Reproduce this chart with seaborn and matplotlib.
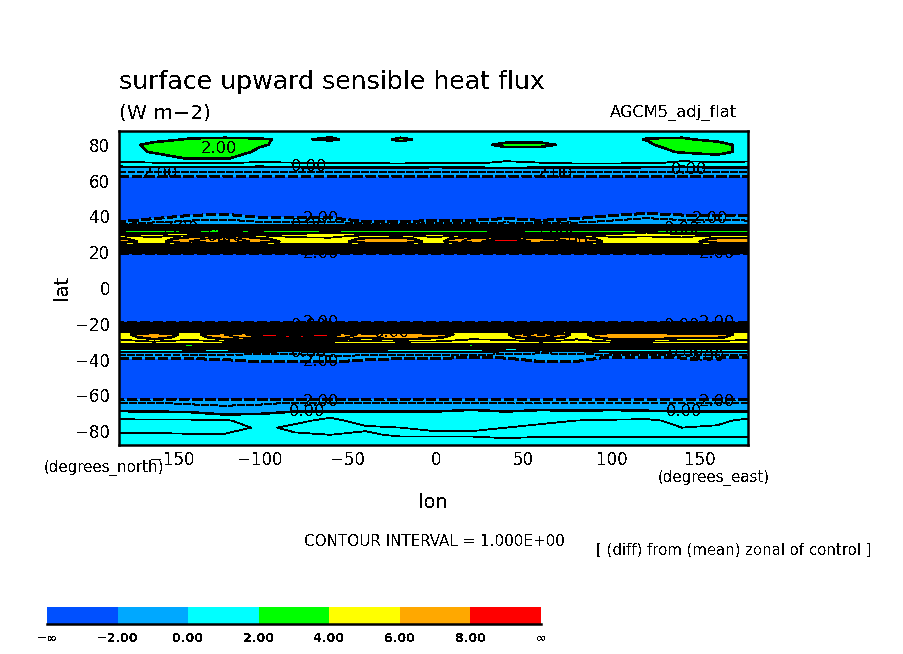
import numpy as np
import matplotlib
matplotlib.use("Agg")
import matplotlib.pyplot as plt
from matplotlib.colors import ListedColormap, BoundaryNorm
import seaborn as sns

# ---------- data ----------
lons = [-180,-160,-140,-120,-100,-80,-60,-40,-20,0,20,40,60,80,100,120,140,160,177.5]
lats = [87.7,83,80,76,72.5,70,67.5,65,62.5,60,47,43,41,39,37,35.5,34,33,32,31,30,29,27.5,26,24.5,23.5,22.5,21.5,20.5,19.5,18,
        -18,-19.5,-20.5,-21.5,-22.5,-23.5,-24.5,-26,-27.5,-29,-30,-31,-32,-33,-34,-35.5,-37,-39,-41,-43,-47,
        -60,-62.5,-64.5,-69,-71,-74,-78,-82,-87.7]

n877 = [1.5,1.5,1.6,1.6,1.6,1.6,1.7,1.6,1.6,1.6,1.5,1.5,1.5,1.5,1.5,1.6,1.6,1.6,1.5]
n83  = [1.6,1.8,2.05,2.1,2.05,1.9,2.1,1.7,2.1,1.8,1.6,1.7,1.7,1.6,1.6,2.05,2.1,1.8,1.6]
n80  = [1.7,2.2,2.8,2.8,2.1,1.7,1.6,1.6,1.8,1.6,1.7,2.2,2.2,1.7,1.6,1.8,2.7,2.3,1.7]
n76  = [1.6,2.1,2.6,2.6,1.8,1.6,1.5,1.5,1.5,1.5,1.5,1.6,1.5,1.5,1.6,1.6,2.1,2.3,1.7]
n725 = [1.3,1.5,2.1,2.1,1.5,1.3,1.3,1.4,1.5,1.3,1.4,1.2,1.3,1.5,1.5,1.4,1.2,1.6,1.3]
n70  = [0.9,1.0,1.1,1.1,0.9,1.0,1.0,1.1,1.2,1.0,1.1,0.9,1.0,1.2,1.2,1.1,0.9,0.9,0.9]
n675 = [-.1,0,0,0,-.1,0,.1,.1,.1,0,.1,.2,.1,.1,.1,0,-.1,.1,.1]
n65  = [-1,-1,-.9,-1,-1,-1,-.9,-.9,-1,-1,-1,-.8,-1,-.9,-1,-1,-1,-.9,-.9]
n625 = [-2,-2,-1.9,-2,-2,-2,-2,-1.9,-2,-2,-2,-1.9,-2,-2,-2,-2,-2,-2,-2]
n60  = [-4,-4,-4,-4,-4,-4,-4,-4,-4,-4,-4,-4,-4,-4,-4,-4,-4,-4,-4]
n47  = [-8,-8,-8,-8,-8,-8,-8,-8,-8,-8,-8,-8,-8,-8,-8,-8,-8,-8,-8]
n43  = [-6,-5,-4,-3.5,-4,-4,-4,-6,-6,-5,-5,-4,-5,-4,-3.5,-2.6,-3.5,-3.5,-3.5]
n41  = [-5,-3.6,-2.2,-1.9,-2.7,-2.7,-2.7,-4.5,-4.5,-3.5,-3.5,-3,-3.5,-3,-2.2,-1.7,-2.1,-2.1,-2.2]
n39  = [-3.5,-2.1,-1.4,-1.2,-1.8,-1.8,-1.8,-3.5,-3.5,-2.6,-2.6,-2.1,-2.6,-2.1,-1.4,-1,-1.3,-1.3,-1.4]
n37  = [-2,-1.2,-.8,-.7,-1,-1,-1,-2,-2,-1.6,-1.6,-1.2,-1.6,-1.2,-.8,-.6,-.7,-.7,-.8]
n355 = [-.9,-.4,-.2,-.2,-.4,-.3,-.3,-.6,-.6,-.6,-.6,-.4,-.5,-.5,-.4,-.3,-.3,-.2,-.3]
n34  = [.8,1,1.2,1.3,1,1.2,1.2,.8,.8,.8,.9,1,.9,1,.9,.9,1.1,1.2,1]
n33  = [1.7,2.2,2.6,2.5,2,1.9,2.2,1.6,1.8,1.7,1.8,2,1.8,1.9,1.7,1.8,2.3,2.4,2]
n32  = [3.8,3.9,3.4,4.1,3.9,3.7,3.6,3.8,3.9,3.8,3.9,4.1,3.9,3.8,3.7,3.6,3.9,3.9,3.8]
n31  = [2.9,3.1,4.1,3,2.9,3.2,4.1,3,3,3.1,3.2,3.3,3.2,3,3.3,4.1,3.2,3,3]
n30  = [4.6,4.4,4.2,4.8,4.6,4.4,4.3,4.6,4.7,4.4,4.8,5.2,4.8,4.7,4.4,4.3,4.4,4.6,4.6]
n29  = [5.3,4.7,5.6,6.4,5.3,4.7,4.7,5.3,5.5,4.7,5.8,6.6,5.8,5.6,4.8,4.9,4.7,5.3,5.3]
n275 = [6.2,5.3,6.6,7.6,6.2,5.4,5.2,6.2,6.4,5.3,7.1,8.3,7.1,6.7,5.4,5.6,5.3,6.2,6.2]
n26  = [6.5,5.5,7,8.2,6.5,5.6,5.4,6.5,6.8,5.5,7.5,9,7.5,7,5.6,5.8,5.5,6.5,6.5]
n245 = [5.5,4.9,5.8,6.6,5.5,4.9,4.9,5.5,5.7,4.9,6,7,6,5.8,4.9,5,4.9,5.5,5.5]
n235 = [3.6,3.7,3.6,3.8,3.6,3.6,3.7,3.6,3.6,3.6,3.8,3.9,3.8,3.6,3.6,3.7,3.6,3.6,3.6]
n225 = [4.4,4.3,4.4,4.6,4.4,4.4,4.3,4.4,4.4,4.3,4.5,4.7,4.5,4.4,4.3,4.4,4.3,4.4,4.4]
n215 = [2.6,2.7,2.6,2.5,2.6,2.7,2.6,2.6,2.6,2.7,2.6,2.5,2.6,2.6,2.7,2.6,2.7,2.6,2.6]
n205 = [2.9,3,2.9,3.1,2.9,2.9,3,2.9,2.9,3,2.9,3.1,2.9,2.9,3,2.9,2.9,2.9,2.9]
n195 = [-2,-2,-1.8,-2,-2,-2,-1.9,-2,-2,-2,-1.9,-2,-2,-2,-2,-2,-1.9,-2,-2]
n18  = [-8,-8,-8,-8,-8,-8,-8,-8,-8,-8,-8,-8,-8,-8,-8,-8,-8,-8,-8]

s18  = [-8,-8,-8,-8,-8,-8,-8,-8,-8,-8,-8,-8,-8,-8,-8,-8,-8,-8,-8]
s195 = [-2,-1.9,-2,-2,-1.9,-2,-1.9,-2,-2,-1.9,-2,-2,-1.8,-2,-2,-2,-1.9,-2,-2]
s205 = [2.9,3,2.9,3,3.1,3.2,3.1,2.9,3,2.9,2.9,3,3.1,2.9,3,2.9,2.9,3,2.9]
s215 = [2.6,2.5,2.7,2.6,2.5,2.6,2.5,2.6,2.7,2.6,2.6,2.7,2.5,2.6,2.7,2.6,2.5,2.6,2.6]
s225 = [4.3,4.4,4.3,4.4,4.7,4.8,4.7,4.4,4.4,4.4,4.3,4.4,4.6,4.3,4.4,4.4,4.4,4.4,4.3]
s235 = [3.6,3.7,3.6,3.7,3.9,3.9,3.9,3.7,3.7,3.6,3.6,3.7,3.8,3.6,3.7,3.7,3.7,3.6,3.6]
s245 = [4.9,5.4,4.9,5.4,6.4,7,6.4,5.2,5.5,5.2,4.9,5,6.2,4.9,5.4,5.4,5.2,5.2,4.9]
s26  = [5.5,7,5.5,7,8.6,9.5,8.6,6.5,7,6.5,5.5,5.8,8.2,5.5,7,7,6.5,6.5,5.5]
s275 = [5.3,6.6,5.4,6.6,7.8,8.6,7.8,6.2,6.7,6.2,5.3,5.5,7.4,5.3,6.6,6.7,6.2,6.2,5.4]
s29  = [4.9,5.8,5,5.8,6.2,6.6,6.2,5.4,5.9,5.5,4.9,5,6,4.9,5.8,5.9,5.5,5.4,5]
s30  = [4.6,5,4.7,5,5,5.3,5,4.8,5,4.9,4.6,4.7,5,4.6,5,5,4.8,4.8,4.6]
s31  = [4.2,4.6,4.2,4.5,4.3,4.5,4.3,4.2,4.4,4.3,4.2,4.2,4.4,4.3,4.4,4.3,4.2,4.2,4.2]
s32  = [3.2,3.5,3.7,3.6,3.1,3.3,3.1,3.1,3.3,3.1,3.7,3.2,2.8,3.7,3.1,3.1,3.2,3.2,3.1]
s33  = [2.3,2.4,2.6,2.5,2.2,2.4,2.2,2.1,2.3,2,2.6,2.2,1.7,2.7,2.1,1.9,2.1,2.1,2.1]
s34  = [1.1,1.2,1.4,1.3,1,1.2,1,1,1.2,1,1.1,.8,.6,1.1,1,1,1,1,1]
s355 = [.1,.1,.1,.1,-.1,-.2,0,0,.1,.2,.2,-.2,-.6,-.3,.3,.3,.2,.2,.2]
s37  = [-.7,-.8,-.8,-.9,-1,-1,-.8,-.8,-.7,-.8,-.7,-1,-1.2,-1.1,-.7,-.6,-.7,-.7,-.6]
s39  = [-1.7,-1.7,-1.7,-1.5,-1.3,-1.3,-1.3,-1.4,-1.7,-1.7,-2.2,-1.9,-1.2,-1.2,-2.3,-2.3,-1.9,-1.9,-2.2]
s41  = [-3.2,-3.2,-3.2,-2.5,-1.9,-1.8,-1.8,-2.4,-3.2,-3.2,-3.8,-3.4,-1.9,-2,-3.8,-3.8,-3.4,-3.4,-3.8]
s43  = [-5,-5,-5,-4,-3.2,-3,-3,-4,-5,-5,-6,-5,-3.2,-3.2,-5,-5,-5,-5,-5]
s47  = [-8,-8,-8,-8,-8,-8,-8,-8,-8,-8,-8,-8,-8,-8,-8,-8,-8,-8,-8]
s60  = [-4,-4,-4,-4,-4,-4,-4,-4,-4,-4,-4,-4,-4,-4,-4,-4,-4,-4,-4]
s625 = [-2,-1.9,-2,-2,-2,-2,-2,-2,-1.9,-2,-2,-2,-2,-2,-2,-2,-2,-2,-1.9]
s645 = [-1,-.9,-1.1,-1.2,-1.1,-.9,-.9,-.9,-.9,-1,-.8,-1,-.9,-.9,-.9,-.9,-.9,-.8,-.8]
s69  = [.05,0,-.1,-.5,-.4,0,0,0,0,0,.2,0,.2,.1,.2,.1,0,0,0]
s71  = [.5,.5,.5,.1,.2,.6,.9,.6,.5,.5,.6,.5,.6,.6,.7,.7,.5,.6,.8]
s74  = [1.15,1.1,1.1,1.05,.8,.9,1.1,.85,.8,.8,.85,.85,.9,1,1.05,1.1,.85,.9,1.1]
s78  = [1.3,1.3,1.3,1.3,.9,1.1,1.1,1.05,1,.95,.95,1,1.1,1.1,1.1,1.1,1,1.05,1.15]
s82  = [.9,.9,.95,.95,.85,.95,1,.95,1.05,1.05,1.05,1.1,1.05,1.05,1.05,1.05,1.05,1.05,1.05]
s877 = [.7,.7,.7,.7,.7,.7,.75,.75,.75,.75,.75,.8,.8,.8,.8,.8,.8,.8,.8]

rows = [n877,n83,n80,n76,n725,n70,n675,n65,n625,n60,n47,n43,n41,n39,n37,n355,n34,n33,n32,n31,n30,n29,n275,n26,n245,n235,n225,n215,n205,n195,n18,
        s18,s195,s205,s215,s225,s235,s245,s26,s275,s29,s30,s31,s32,s33,s34,s355,s37,s39,s41,s43,s47,
        s60,s625,s645,s69,s71,s74,s78,s82,s877]

fill_levels = [-2,0,2,4,6,8]
thick_levels = [0,2,4,6,8]
thin_levels = [1,3,5,7,9]
fill_colors = ["#0050ff","#00a8ff","#00ffff","#00ff00","#ffff00","#ffa800","#ff0000"]
cbar_labels = ["\u2212\u221e","\u22122.00","0.00","2.00","4.00","6.00","8.00","\u221e"]

label_lon = [-123,-72,-157,68,144,-65,-72,-145,-120,-72,-65,69,77,156,140,144,160,-72,-65,-25,-72,-65,-65,-73,140,160,142,154,141,160]
label_lat = [78,68,64,64,66,39,35,33.5,29,21,19,33,26,39,33.5,21,19,-21,-19,-25,-36,-41,-63.5,-69,-21,-19.5,-36,-38,-69,-63.5]
label_txt = ["2.00","0.00","2.00","2.00","0.00","2.00","0.00","2.00","6.00","0.00","2.00","2.00","6.00","2.00","0.00","0.00","2.00",
             "0.00","2.00","6.00","0.00","2.00","2.00","0.00","0.00","2.00","0.00","2.00","0.00","2.00"]

# ---------- drawing ----------
sns.set_theme(style="white")
plt.rcParams["font.family"] = ["DejaVu Sans"]
plt.rcParams["text.antialiased"] = False

W, H = 904, 654
fig = plt.figure(figsize=(W/100, H/100), dpi=100, facecolor="white")
def box(x0, y0, x1, y1):
    return [x0/W, 1-y1/H, (x1-x0)/W, (y1-y0)/H]
def ptext(x, y, s, **kw):
    kw.setdefault("color", "black")
    fig.text(x/W, 1-y/H, s, **kw)

ax = fig.add_axes(box(119, 131, 748, 445))
x = np.array(lons); y = np.array(lats)[::-1]; z = np.array(rows, dtype=float)[::-1]
cmap = ListedColormap(fill_colors)
bounds = [-1000] + fill_levels + [1000]
norm = BoundaryNorm(bounds, cmap.N)
ax.contourf(x, y, z, levels=bounds, cmap=cmap, norm=norm)
ax.contour(x, y, z, levels=thin_levels, colors="black", linewidths=0.55, antialiased=False)
ax.contour(x, y, z, levels=thick_levels, colors="black", linewidths=1.1, antialiased=False)
ax.contour(x, y, z, levels=[-1], colors="black", linewidths=0.7, linestyles=[(0, (7, 3))], antialiased=False)
ax.contour(x, y, z, levels=[-2], colors="black", linewidths=1.1, linestyles=[(0, (6, 2.5))], antialiased=False)
for lo, la, t in zip(label_lon, label_lat, label_txt):
    ax.text(lo, la, t, fontsize=11.7, color="black", ha="center", va="center")

ax.set_xlim(-180, 177.5); ax.set_ylim(-87.7, 87.7)
ax.set_xticks([-150,-100,-50,0,50,100,150])
ax.set_yticks([-80,-60,-40,-20,0,20,40,60,80])
ax.set_xticks(np.arange(-170, 171, 10), minor=True)
ax.set_yticks(np.arange(-70, 71, 20), minor=True)
ax.tick_params(which="major", direction="in", length=5.5, width=1.4, top=True, right=True, left=True, bottom=True,
               labelsize=12, labelcolor="black", color="black")
ax.tick_params(axis="x", which="major", pad=4)
ax.tick_params(axis="y", which="major", pad=6.5)
ax.tick_params(which="minor", direction="in", length=2.5, width=0.8, top=True, right=True, left=True, bottom=True, color="black")
for s in ax.spines.values():
    s.set_linewidth(1.8); s.set_color("black"); s.set_visible(True)

ptext(119, 82, "surface upward sensible heat flux", fontsize=18.2, va="center")
ptext(119, 113, "(W m\u22122)", fontsize=14.6, va="center")
ptext(737, 113, "AGCM5_adj_flat", fontsize=11.7, va="center", ha="right")
ptext(62, 288, "lat", fontsize=14, rotation=90, va="center", ha="center")
ptext(433, 502, "lon", fontsize=14, va="center", ha="center")
ptext(104, 468, "(degrees_north)", fontsize=10.8, va="center", ha="center")
ptext(714, 478, "(degrees_east)", fontsize=10.8, va="center", ha="center")
ptext(434, 542, "CONTOUR INTERVAL = 1.000E+00", fontsize=10.9, va="center", ha="center")
ptext(734, 550, "[ (diff) from (mean) zonal of control ]", fontsize=10.7, va="center", ha="center")

cax = fig.add_axes(box(47, 607, 541, 624))
cax.pcolormesh(np.arange(len(fill_colors)+1), [0, 1], np.arange(len(fill_colors))[None, :], cmap=cmap, vmin=-0.5, vmax=6.5)
cax.set_xticks(np.arange(len(cbar_labels))); cax.set_xticklabels(cbar_labels, fontsize=9, fontweight="bold", color="black")
cax.set_yticks([])
cax.tick_params(axis="x", direction="in", length=5, width=1.4, color="black", pad=6)
for k, s in cax.spines.items():
    s.set_visible(k == "bottom"); s.set_linewidth(1.8); s.set_color("black")

fig.savefig("out.png", dpi=100, facecolor="white")
